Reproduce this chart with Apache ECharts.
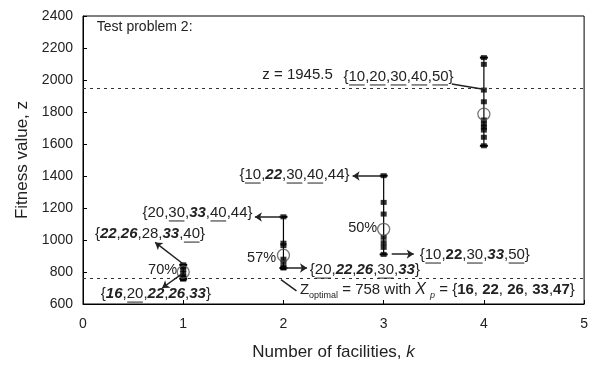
<!DOCTYPE html>
<html><head><meta charset="utf-8">
<script src="https://cdn.jsdelivr.net/npm/echarts@6/dist/echarts.min.js"></script>
<style>html,body{margin:0;padding:0;background:#fff}#c{width:591px;height:369px}</style>
</head><body><div id="c"></div>
<script>
// ---------------- data ----------------
const facilities = [1, 2, 3, 4];
const runsK1 = [758, 758, 758, 758, 770, 790, 815, 832, 845];
const runsK2 = [825, 828, 860, 880, 965, 980, 1145];
const runsK3 = [910, 954, 983, 1017, 1162, 1235, 1402];
const runsK4 = [1589, 1642, 1687, 1705, 1725, 1750, 1864, 1937, 2098, 2140];
const meanFitness = [800, 905, 1067, 1787];
const bestKnownZ = 1945.5;
const optimalZ = 758;
const xTickLabels = ['0', '1', '2', '3', '4', '5'];
const yTickLabels = ['600', '800', '1000', '1200', '1400', '1600', '1800', '2000', '2200', '2400'];

// ---------------- styles / annotations ----------------
const FF = '"Liberation Sans", Arial, sans-serif';
const INK = '#222';
const FS = 15;
const STY = {
  n:   { w: 'normal', s: 'normal', size: FS, dy: 0, u: false },
  t:   { w: 'normal', s: 'normal', size: 14, dy: 0, u: false },
  p:   { w: 'normal', s: 'normal', size: 14.5, dy: 0, u: false },
  u:   { w: 'normal', s: 'normal', size: FS, dy: 0, u: true },
  bi:  { w: 'bold',   s: 'italic', size: FS, dy: 0, u: false },
  b:   { w: 'bold',   s: 'normal', size: FS, dy: 0, u: false },
  i:   { w: 'normal', s: 'italic', size: 16, dy: 0, u: false },
  sub: { w: 'normal', s: 'normal', size: 9,  dy: 6, u: false },
  isub:{ w: 'normal', s: 'italic', size: 9,  dy: 6, u: false }
};
function setPieces(list) { // list of [text, style]
  const out = [['{', 'n']];
  list.forEach((p, i) => { if (i) out.push([',', 'n']); out.push(p); });
  out.push(['}', 'n']);
  return out;
}
const annotPieces = [
  [['Test problem 2:', 't']],
  [['z = 1945.5', 'n']],
  setPieces([['10','u'],['20','u'],['30','u'],['40','u'],['50','u']]),
  setPieces([['10','u'],['22','bi'],['30','u'],['40','u'],['44','n']]),
  [['50%', 'p']],
  setPieces([['20','n'],['30','u'],['33','bi'],['40','u'],['44','n']]),
  setPieces([['22','bi'],['26','bi'],['28','n'],['33','bi'],['40','u']]),
  [['70%', 'p']],
  setPieces([['16','bi'],['20','u'],['22','bi'],['26','bi'],['33','bi']]),
  [['57%', 'p']],
  setPieces([['20','u'],['22','bi'],['26','bi'],['30','u'],['33','bi']]),
  setPieces([['10','u'],['22','b'],['30','u'],['33','bi'],['50','u']]),
  [['Z','n'],['optimal','sub'],[' = 758 with ','n'],['X','i'],[' ','n'],['p','isub'],[' = {','n'],
   ['16','b'],[', ','n'],['22','b'],[', ','n'],['26','b'],[', ','n'],['33','b'],[',','n'],['47','b'],['}','n']]
];
// [x, y, pieceIndex, rightAligned]
const annotPos = [
  [0.138, 2331, 0, 0],
  [1.789, 2031, 1, 0],
  [2.599, 2019, 2, 0],
  [1.561, 1406, 3, 0],
  [2.935, 1075, 4, 1],
  [0.593, 1169, 5, 0],
  [0.119, 1037, 6, 0],
  [0.939, 812, 7, 1],
  [0.178, 662, 8, 0],
  [1.927, 887, 9, 1],
  [2.263, 812, 10, 0],
  [3.36, 906, 11, 0],
  [2.164, 688, 12, 0]
];
const arrowLines = [
  [[1.98, 1144], [1.715, 1144]],
  [[2.975, 1400], [2.69, 1400]],
  [[1.0, 850], [0.72, 985]],
  [[0.99, 790], [0.79, 700]],
  [[2.02, 825], [2.235, 825]],
  [[3.08, 912], [3.30, 912]]
];
const plainLines = [
  [[3.68, 1975], [3.995, 1942]],
  [[2.13, 682], [1.975, 752]]
];

const mctx = document.createElement('canvas').getContext('2d');
function fontOf(st) { return st.s + ' ' + st.w + ' ' + st.size + 'px ' + FF; }
function measure(t, st) { mctx.font = fontOf(st); return mctx.measureText(t).width; }

const allRuns = [runsK1, runsK2, runsK3, runsK4];
const runPoints = [];
allRuns.forEach((r, i) => r.forEach(v => runPoints.push([facilities[i], v])));
const whiskers = allRuns.map((r, i) => [facilities[i], Math.min(...r), Math.max(...r)]);
const means = meanFitness.map((m, i) => [facilities[i], m]);

const chart = echarts.init(document.getElementById('c'), null, { renderer: 'canvas' });
chart.setOption({
  animation: false,
  grid: { left: 83, right: 2, top: 16, bottom: 65, show: true, borderColor: '#000', borderWidth: 1, containLabel: false },
  xAxis: {
    type: 'value', min: 0, max: 5, interval: 1,
    axisLine: { show: true, lineStyle: { color: '#000', width: 1 } },
    axisTick: { show: true, inside: true, length: 4, lineStyle: { color: '#000' } },
    splitLine: { show: false },
    axisLabel: { margin: 13, color: INK, fontSize: 14, fontFamily: FF, formatter: v => xTickLabels[Math.round(v)] },
    name: '{a|Number of facilities, }{b|k}', nameLocation: 'middle', nameGap: 40,
    nameTextStyle: { rich: {
      a: { fontSize: 17, fontFamily: FF, color: INK },
      b: { fontSize: 17, fontFamily: FF, color: INK, fontStyle: 'italic' } } }
  },
  yAxis: {
    type: 'value', min: 600, max: 2400, interval: 200,
    axisLine: { show: true, lineStyle: { color: '#000', width: 1 } },
    axisTick: { show: true, inside: true, length: 4, lineStyle: { color: '#000' } },
    splitLine: { show: false },
    axisLabel: { margin: 10, color: INK, fontSize: 14, fontFamily: FF, formatter: v => yTickLabels[Math.round((v - 600) / 200)] },
    name: 'Fitness value, z', nameLocation: 'middle', nameGap: 52, nameRotate: 90,
    nameTextStyle: { fontSize: 17, fontFamily: FF, color: INK }
  },
  series: [
    {
      type: 'custom', name: 'range', clip: false, z: 2,
      data: whiskers,
      renderItem: function (params, api) {
        const k = api.value(0), lo = api.value(1), hi = api.value(2);
        const a = api.coord([k, lo]), b = api.coord([k, hi]);
        return { type: 'group', children: [
          { type: 'line', shape: { x1: a[0], y1: a[1], x2: b[0], y2: b[1] }, style: { stroke: '#000', lineWidth: 1.2 } },
          { type: 'line', shape: { x1: a[0] - 4, y1: a[1], x2: a[0] + 4, y2: a[1] }, style: { stroke: '#000', lineWidth: 2 } },
          { type: 'line', shape: { x1: b[0] - 4, y1: b[1], x2: b[0] + 4, y2: b[1] }, style: { stroke: '#000', lineWidth: 2 } }
        ] };
      },
      markLine: {
        silent: true, symbol: ['none', 'none'], label: { show: false },
        lineStyle: { type: [3, 4], color: '#333', width: 1 },
        data: [{ yAxis: bestKnownZ }, { yAxis: optimalZ }]
      }
    },
    {
      type: 'scatter', name: 'runs', z: 3,
      symbol: 'rect', symbolSize: [6, 5],
      itemStyle: { color: '#000' },
      data: runPoints,
      markLine: {
        silent: true, symbol: ['none', 'arrow'], symbolSize: 7, label: { show: false },
        lineStyle: { type: 'solid', color: INK, width: 1.5 },
        data: arrowLines.map(l => [{ coord: l[0] }, { coord: l[1] }])
      }
    },
    {
      type: 'scatter', name: 'mean', z: 4,
      symbol: 'circle', symbolSize: 12,
      itemStyle: { color: 'rgba(255,255,255,0)', borderColor: '#555', borderWidth: 1.3 },
      data: means,
      markLine: {
        silent: true, symbol: ['none', 'none'], label: { show: false },
        lineStyle: { type: 'solid', color: INK, width: 1.5 },
        data: plainLines.map(l => [{ coord: l[0] }, { coord: l[1] }])
      }
    },
    {
      type: 'custom', name: 'annotations', clip: false, z: 5, silent: true,
      data: annotPos,
      renderItem: function (params, api) {
        const pieces = annotPieces[api.value(2)];
        const pt = api.coord([api.value(0), api.value(1)]);
        const widths = pieces.map(p => measure(p[0], STY[p[1]]));
        const total = widths.reduce((s, w) => s + w, 0);
        let x = api.value(3) ? pt[0] - total : pt[0];
        const children = [];
        pieces.forEach((p, i) => {
          const st = STY[p[1]];
          children.push({ type: 'text', style: { text: p[0], x: x, y: pt[1] + st.dy, font: fontOf(st), fill: INK,
            textAlign: 'left', textVerticalAlign: 'middle', verticalAlign: 'middle', align: 'left' } });
          if (st.u) children.push({ type: 'line', shape: { x1: x + 0.5, y1: pt[1] + 8, x2: x + widths[i] - 0.5, y2: pt[1] + 8 },
            style: { stroke: INK, lineWidth: 1 } });
          x += widths[i];
        });
        return { type: 'group', children: children };
      }
    }
  ]
});
</script></body></html>
